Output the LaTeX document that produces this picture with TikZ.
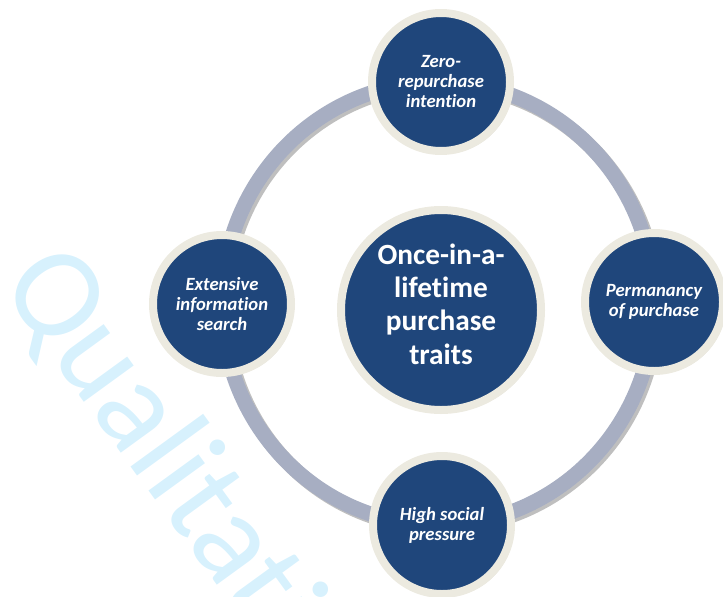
\documentclass[tikz,border=0pt]{standalone}
\usepackage{fontspec}
\setmainfont{Carlito}[Ligatures={NoCommon}]
\usetikzlibrary{shadows}

\definecolor{traitblue}{HTML}{1F467B}
\definecolor{traitrim}{HTML}{ECEAE0}
\definecolor{ringgray}{HTML}{A7AEC2}
\definecolor{markblue}{HTML}{D7F1FD}

\begin{document}
\begin{tikzpicture}[x=0.75pt,y=-0.75pt,
  trait/.style={circle,draw=traitrim,line width=6pt,fill=traitblue,
    text=white,align=center,inner sep=0pt,minimum size=103.5pt,
    font=\bfseries\itshape\fontsize{14}{15}\selectfont,
    drop shadow={shadow xshift=2pt,shadow yshift=-2pt,opacity=0.3}},
  core/.style={trait,minimum size=150pt,text depth=9pt,
    font=\bfseries\fontsize{22}{25}\selectfont},
  ring/.style={line width=11.25pt,draw=ringgray}]
\useasboundingbox (0,0) rectangle (723,596);

% watermark behind the diagram
\begin{scope}
  \clip (0,0) rectangle (723,596);
  \node[anchor=base west,rotate=-54,text=markblue,inner sep=0pt,
    font=\fontsize{97}{97}\selectfont] (mark) at (-2,284) {Qualitative};
\end{scope}

% ring through the four traits
\draw[ring,draw=black,opacity=0.25,xshift=2pt,yshift=-2pt]
  (438,303.5) ellipse [x radius=216,y radius=221.5];
\draw[ring] (438,303.5) ellipse [x radius=216,y radius=221.5];

\node[core] (traits) at (441,310) {Once-in-a-\\lifetime\\purchase\\traits};
\node[trait] (zero) at (441,82) {Zero-\\repurchase\\intention};
\node[trait] (perm) at (654,302) {Permanancy\\of purchase};
\node[trait] (social) at (442,525) {High social\\pressure};
\node[trait] (search) at (222,304) {Extensive\\information\\search};
\end{tikzpicture}
\end{document}
